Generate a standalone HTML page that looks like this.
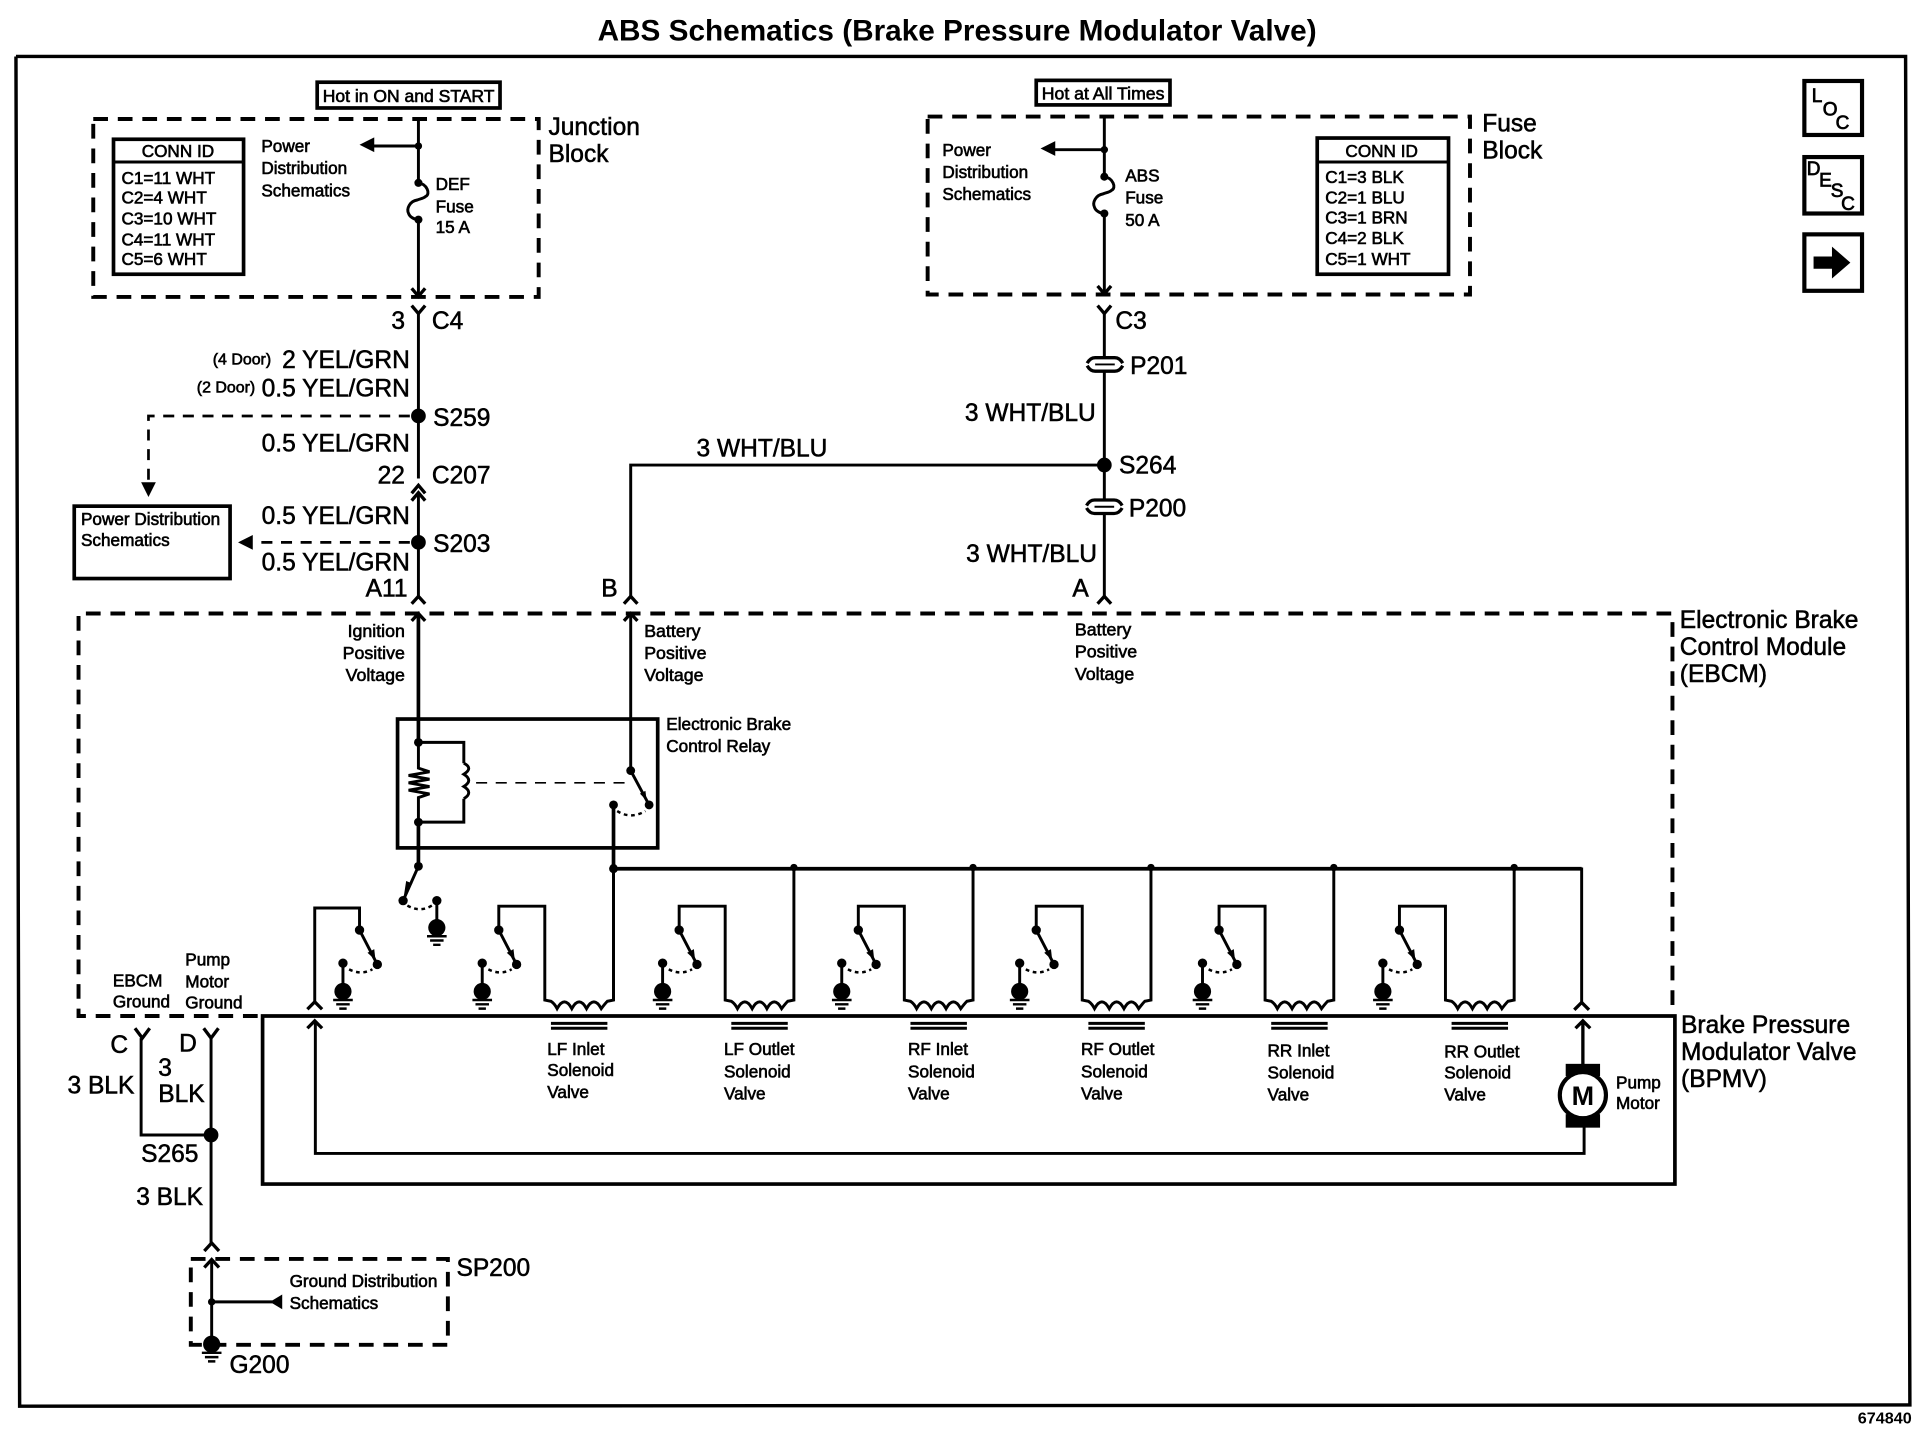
<!DOCTYPE html>
<html><head><meta charset="utf-8"><title>ABS Schematics</title>
<style>
html,body{margin:0;padding:0;background:#fff;width:1924px;height:1456px;overflow:hidden}
svg{display:block}
text{font-family:"Liberation Sans",sans-serif;fill:#000}
.s{font-size:14px;stroke:#000;stroke-width:.5}
.m{font-size:14.5px;stroke:#000;stroke-width:.5}
.k{font-size:15.5px;stroke:#000;stroke-width:.6}
.l{font-size:20px;stroke:#000;stroke-width:.45}
.w{fill:none;stroke:#000;stroke-width:2.4}
.c{fill:none;stroke:#000;stroke-width:2.7}
.t{fill:none;stroke:#000;stroke-width:3}
.d{fill:none;stroke:#000;stroke-width:3.2;stroke-dasharray:12 8}
.d2{fill:none;stroke:#000;stroke-width:2.2;stroke-dasharray:9 7}
.dot{fill:none;stroke:#000;stroke-width:2;stroke-dasharray:3 3}
</style></head><body>
<svg xmlns="http://www.w3.org/2000/svg" width="1924" height="1456" viewBox="0 0 1568 1186.6">
<defs>
<g id="gnd"><circle cx="0" cy="-1" r="7" fill="#000"/><path d="M-8 6H8M-5.500 9.500H5.500M-3 13H3" fill="none" stroke="#000" stroke-width="2"/></g>
<g id="sw">
<path class="w" d="M13.500 758L28 786M0 785V803"/>
<path d="M26.500 782.500L25.500 773.500L20 776.500Z" fill="#000"/>
<circle cx="13.500" cy="758" r="3.800" fill="#000"/><circle cx="28" cy="786" r="3.800" fill="#000"/><circle cx="0" cy="785" r="3.800" fill="#000"/>
<path class="dot" d="M5 790Q15 795 24 790"/>
<use href="#gnd" x="0" y="809"/>
</g>
<g id="u">
<path class="w" d="M107 707V815L102 816Q100 818 97 822Q91 811 85 822Q79 811 73 822Q67 811 61 822Q59 818 56 816L51 815V738.500H13.500V758"/>
<use href="#sw"/>
<circle cx="107" cy="707" r="3" fill="#000"/>
<path d="M56 834H102M56 838H102" class="w"/>
</g>
<g id="pc">
<rect x="-10" y="-5" width="20" height="10" fill="#fff"/>
<path class="c" d="M-14.500 -1Q-12 -5.500 -8 -5.500H8Q12 -5.500 14.500 -1M-14.500 1Q-12 5.500 -8 5.500H8Q12 5.500 14.500 1"/>
<path d="M-8 0H8" fill="none" stroke="#000" stroke-width="1.600"/>
</g>
<g id="fuse">
<path class="w" d="M0 0C7 1 10 9 6 11C4 13 1 13 -1 14C-7 15 -10 21 -8 25C-7 28 -3 30 0 30"/>
<circle cx="0" cy="0" r="3.300" fill="#000"/><circle cx="0" cy="30" r="3.300" fill="#000"/>
</g>
</defs>
<rect x="0" y="0" width="1568" height="1186.6" fill="#fff"/>

<text x="780" y="33" text-anchor="middle" font-size="24" font-weight="bold" textLength="586" lengthAdjust="spacingAndGlyphs">ABS Schematics (Brake Pressure Modulator Valve)</text>

<path class="t" d="M13 46H1553L1556.500 1145L16 1146L13 46" style="stroke-width:2.800"/>

<!-- header boxes -->
<rect x="258.500" y="67" width="149" height="21" class="t"/>
<text x="263" y="83" class="s" textLength="140" lengthAdjust="spacingAndGlyphs">Hot in ON and START</text>
<rect x="844.500" y="65.500" width="109" height="20" class="t"/>
<text x="849" y="81" class="s" textLength="100" lengthAdjust="spacingAndGlyphs">Hot at All Times</text>

<!-- Junction block -->
<rect x="76" y="97" width="363" height="145" class="d"/>
<text x="447" y="110" class="l">Junction</text><text x="447" y="132" class="l">Block</text>
<rect x="92.500" y="113.500" width="106" height="110" class="t"/>
<path d="M92 132H198" class="w"/>
<text x="145" y="128" class="s" text-anchor="middle">CONN ID</text>
<text x="99" y="150" class="s">C1=11 WHT</text><text x="99" y="166" class="s">C2=4 WHT</text><text x="99" y="183" class="s">C3=10 WHT</text><text x="99" y="200" class="s">C4=11 WHT</text><text x="99" y="216" class="s">C5=6 WHT</text>
<text x="213" y="124" class="s">Power</text><text x="213" y="142" class="s">Distribution</text><text x="213" y="160" class="s">Schematics</text>
<text x="355" y="155" class="s">DEF</text><text x="355" y="173" class="s">Fuse</text><text x="355" y="190" class="s">15 A</text>
<path class="w" d="M341 97V149M341 179V241M303 119H341"/>
<path class="c" d="M335.500 235L341 241.500L346.500 235"/>
<use href="#fuse" x="341" y="149"/>
<path d="M293 118L305 112V124Z" fill="#000"/>
<circle cx="341" cy="119" r="3" fill="#000"/>

<!-- Fuse block -->
<rect x="756" y="95" width="442" height="145" class="d"/>
<text x="1208" y="107" class="l">Fuse</text><text x="1208" y="129" class="l">Block</text>
<rect x="1073.500" y="112.500" width="107" height="111" class="t"/>
<path d="M1073 132H1180" class="w"/>
<text x="1126" y="128" class="s" text-anchor="middle">CONN ID</text>
<text x="1080" y="149" class="s">C1=3 BLK</text><text x="1080" y="166" class="s">C2=1 BLU</text><text x="1080" y="182" class="s">C3=1 BRN</text><text x="1080" y="199" class="s">C4=2 BLK</text><text x="1080" y="216" class="s">C5=1 WHT</text>
<text x="768" y="127" class="s">Power</text><text x="768" y="145" class="s">Distribution</text><text x="768" y="163" class="s">Schematics</text>
<text x="917" y="148" class="s">ABS</text><text x="917" y="166" class="s">Fuse</text><text x="917" y="184" class="s">50 A</text>
<path class="w" d="M900 95V144M900 174V239M858 122H900"/>
<path class="c" d="M894.500 233L900 239.500L905.500 233"/>
<use href="#fuse" x="900" y="144"/>
<path d="M848 121L860 115V127Z" fill="#000"/>
<circle cx="900" cy="122" r="3" fill="#000"/>

<!-- LOC / DESC / arrow -->
<rect x="1470.500" y="66" width="47" height="44" class="t" style="stroke-width:3.400"/>
<text x="1476.500" y="83" class="k">L</text><text x="1485.500" y="94" class="k">O</text><text x="1496" y="105" class="k">C</text>
<rect x="1470.500" y="128" width="47" height="46" class="t" style="stroke-width:3.400"/>
<text x="1472.500" y="142.500" class="k">D</text><text x="1482.500" y="152" class="k">E</text><text x="1492" y="160.500" class="k">S</text><text x="1500.500" y="171" class="k">C</text>
<rect x="1470.500" y="191" width="47" height="46" class="t" style="stroke-width:3.400"/>
<path d="M1478 209H1493V201L1508 214L1493 227V219H1478Z" fill="#000"/>

<!-- left harness -->
<path class="c" d="M335.500 249L341 255.500L346.500 249"/>
<path class="w" d="M341 255V390"/>
<text x="319" y="268" class="l">3</text><text x="352" y="268" class="l">C4</text>
<text x="221" y="297" class="s" text-anchor="end" style="font-size:13px">(4 Door)</text>
<text x="334" y="300" class="l" text-anchor="end">2 YEL/GRN</text>
<text x="208" y="320" class="s" text-anchor="end" style="font-size:13px">(2 Door)</text>
<text x="334" y="323" class="l" text-anchor="end">0.5 YEL/GRN</text>
<circle cx="341" cy="339" r="6" fill="#000"/>
<text x="353" y="347" class="l">S259</text>
<path class="d2" d="M334 339H121V393"/>
<path d="M115 393H127L121 405Z" fill="#000"/>
<text x="334" y="368" class="l" text-anchor="end">0.5 YEL/GRN</text>
<text x="330" y="394" class="l" text-anchor="end">22</text><text x="352" y="394" class="l">C207</text>
<path class="c" d="M335.500 402L341 395.500L346.500 402M335.500 408L341 401.500L346.500 408"/>
<path class="w" d="M341 402V486"/>
<text x="334" y="427" class="l" text-anchor="end">0.5 YEL/GRN</text>
<circle cx="341" cy="442" r="6" fill="#000"/>
<text x="353" y="450" class="l">S203</text>
<path class="d2" d="M334 442H206"/>
<path d="M194 442L206 436V448Z" fill="#000"/>
<text x="334" y="465" class="l" text-anchor="end">0.5 YEL/GRN</text>
<rect x="60.500" y="412.500" width="127" height="59" class="t"/>
<text x="66" y="428" class="s">Power Distribution</text><text x="66" y="445" class="s">Schematics</text>
<text x="298" y="486" class="l">A11</text>
<path class="c" d="M335.500 492L341 486L346.500 492M335.500 506L341 500L346.500 506"/>

<!-- mid / right harness -->
<text x="490" y="486" class="l">B</text>
<path class="w" d="M514 486V379H900"/>
<path class="c" d="M508.500 492L514 486L519.500 492M508.500 506L514 500L519.500 506"/>
<text x="621" y="372" class="l" text-anchor="middle">3 WHT/BLU</text>
<path class="c" d="M894.500 249L900 255.500L905.500 249M894.500 492L900 486L905.500 492"/>
<path class="w" d="M900 255V486"/>
<use href="#pc" x="900.500" y="297"/>
<text x="909" y="268" class="l">C3</text>
<text x="921" y="305" class="l">P201</text>
<text x="893" y="343" class="l" text-anchor="end">3 WHT/BLU</text>
<circle cx="900" cy="379" r="6" fill="#000"/>
<text x="912" y="386" class="l">S264</text>
<use href="#pc" x="900" y="413"/>
<text x="920" y="421" class="l">P200</text>
<text x="894" y="458" class="l" text-anchor="end">3 WHT/BLU</text>
<text x="874" y="486" class="l">A</text>

<!-- EBCM dashed -->
<path class="d" d="M210 828H64V500H1363V828"/>
<text x="1369" y="512" class="l">Electronic Brake</text><text x="1369" y="534" class="l">Control Module</text><text x="1369" y="556" class="l">(EBCM)</text>
<text x="330" y="519" class="m" text-anchor="end">Ignition</text><text x="330" y="537" class="m" text-anchor="end">Positive</text><text x="330" y="555" class="m" text-anchor="end">Voltage</text>
<text x="525" y="519" class="m">Battery</text><text x="525" y="537" class="m">Positive</text><text x="525" y="555" class="m">Voltage</text>
<text x="876" y="518" class="m">Battery</text><text x="876" y="536" class="m">Positive</text><text x="876" y="554" class="m">Voltage</text>

<!-- BPMV -->
<path class="t" d="M214 828H1365V965H214Z"/>
<text x="1370" y="842" class="l">Brake Pressure</text><text x="1370" y="864" class="l">Modulator Valve</text><text x="1370" y="886" class="l">(BPMV)</text>

<!-- relay -->
<rect x="324" y="586" width="212" height="105" class="t"/>
<text x="543" y="595" class="s">Electronic Brake</text><text x="543" y="613" class="s">Control Relay</text>
<path class="t" d="M341 500V605"/>
<path class="w" d="M341 605V626L350 629L333 632L350 635L333 638L350 641L333 644L350 647L341 650V670M341 605H378V622M378 622Q386 626 378 631Q386 636 378 641Q386 646 378 651M378 651V670H341"/>
<path class="t" d="M341 670V706"/>
<circle cx="341" cy="605" r="3.600" fill="#000"/><circle cx="341" cy="670" r="3.600" fill="#000"/>
<path d="M388 638H514" fill="none" stroke="#000" stroke-width="1.300" stroke-dasharray="9 7"/>
<path class="w" d="M514 500V628L529 656"/>
<path d="M527 652.500L526 644.500L521.500 646.800Z" fill="#000"/>
<circle cx="514" cy="628" r="3.600" fill="#000"/><circle cx="529" cy="656" r="3.600" fill="#000"/><circle cx="500" cy="656" r="3.600" fill="#000"/>
<path class="dot" d="M503 661Q514 668 526 661"/>
<path class="t" d="M500 656V708"/>
<path class="w" d="M500 708V815"/>
<path class="t" d="M500 708H1289"/>
<circle cx="500" cy="708" r="3.600" fill="#000"/>
<path class="w" d="M1289 707V817"/>
<!-- ignition switch -->
<path class="w" d="M341 706L328.500 734M356 734V752"/>
<path d="M329 731L336 720L331 718Z" fill="#000"/>
<circle cx="341" cy="706" r="3.600" fill="#000"/><circle cx="328.500" cy="734" r="3.800" fill="#000"/><circle cx="356" cy="734" r="3.800" fill="#000"/>
<path class="dot" d="M332 738Q342 744 352 738"/>
<use href="#gnd" x="356" y="757"/>

<!-- unit 1 -->
<path class="w" d="M256.500 817V740H293V758"/>
<use href="#sw" x="279.500"/>
<path class="c" d="M250.500 822.500L256.500 816.500L262.500 822.500"/>

<!-- solenoid units -->
<use href="#u" x="393"/><use href="#u" x="540"/><use href="#u" x="686"/><use href="#u" x="831"/><use href="#u" x="980"/><use href="#u" x="1127"/>
<text x="446" y="860" class="s">LF Inlet</text><text x="446" y="877" class="s">Solenoid</text><text x="446" y="895" class="s">Valve</text>
<text x="590" y="860" class="s">LF Outlet</text><text x="590" y="878" class="s">Solenoid</text><text x="590" y="896" class="s">Valve</text>
<text x="740" y="860" class="s">RF Inlet</text><text x="740" y="878" class="s">Solenoid</text><text x="740" y="896" class="s">Valve</text>
<text x="881" y="860" class="s">RF Outlet</text><text x="881" y="878" class="s">Solenoid</text><text x="881" y="896" class="s">Valve</text>
<text x="1033" y="861" class="s">RR Inlet</text><text x="1033" y="879" class="s">Solenoid</text><text x="1033" y="897" class="s">Valve</text>
<text x="1177" y="862" class="s">RR Outlet</text><text x="1177" y="879" class="s">Solenoid</text><text x="1177" y="897" class="s">Valve</text>

<!-- return wire & motor -->
<path class="c" d="M250.500 838L256.500 832L262.500 838"/>
<path class="w" d="M257 832V940H1291V915"/>
<path class="c" d="M1283 823L1289 817L1295 823M1284 838L1290 832L1296 838M1290 832V870"/>
<rect x="1276" y="867" width="28" height="10" fill="#000"/><rect x="1276" y="908" width="28" height="11" fill="#000"/>
<circle cx="1290" cy="892.500" r="18.800" fill="#fff" stroke="#000" stroke-width="3.400"/>
<text x="1290" y="900.500" text-anchor="middle" font-size="22" font-weight="bold">M</text>
<text x="1317" y="887" class="s">Pump</text><text x="1317" y="904" class="s">Motor</text>

<!-- bottom-left -->
<text x="92" y="804" class="s">EBCM</text><text x="92" y="821" class="s">Ground</text>
<text x="151" y="787" class="s">Pump</text><text x="151" y="805" class="s">Motor</text><text x="151" y="822" class="s">Ground</text>
<path class="c" d="M110 838L116 846L122 838M166 838L172 846L178 838"/>
<path class="w" d="M115 846V925H172M172 846V1013"/>
<path class="c" d="M166.500 1019.500L172.500 1013L178.500 1019.500"/>
<text x="90" y="858" class="l">C</text><text x="146" y="857" class="l">D</text>
<text x="55" y="891" class="l">3 BLK</text>
<text x="129" y="877" class="l">3</text><text x="129" y="898" class="l">BLK</text>
<circle cx="172" cy="925" r="6" fill="#000"/>
<text x="115" y="947" class="l">S265</text>
<text x="111" y="982" class="l">3 BLK</text>
<path class="d" d="M155.500 1026H365V1096H155.500Z"/>
<text x="372" y="1040" class="l">SP200</text>
<path class="c" d="M166.500 1033L172.500 1026.500L178.500 1033"/>
<path class="w" d="M172.500 1027V1092M172.500 1061H222"/>
<circle cx="172.500" cy="1061" r="3" fill="#000"/>
<path d="M220 1061L230 1055V1067Z" fill="#000"/>
<text x="236" y="1049" class="s">Ground Distribution</text><text x="236" y="1067" class="s">Schematics</text>
<use href="#gnd" x="172.500" y="1096.500"/>
<text x="187" y="1119" class="l">G200</text>
<text x="1558" y="1160" font-size="12.500" font-weight="bold" text-anchor="end" textLength="44" lengthAdjust="spacingAndGlyphs">674840</text>
</svg>
</body></html>
